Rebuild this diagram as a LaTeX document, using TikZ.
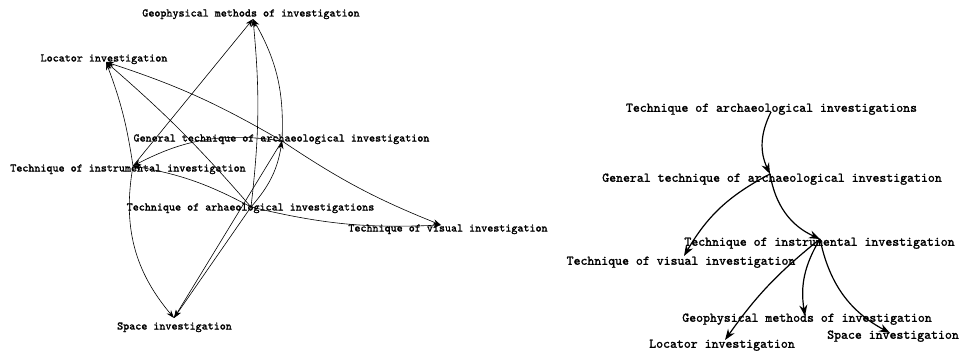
\documentclass[tikz,border=0pt]{standalone}
\usepackage{fontspec}
\usepackage{tikz}
\usetikzlibrary{arrows.meta}
\newfontfamily\lblfont{lmmono10-regular.otf}[FakeBold=1.6]

\begin{document}
\begin{tikzpicture}[x=1pt,y=-1pt,
  lbl/.style={font=\lblfont\fontsize{11.5}{12}\selectfont,inner sep=0pt,text height=7pt,text depth=2pt},
  rlbl/.style={font=\lblfont\fontsize{13.2}{14}\selectfont,inner sep=0pt,text height=8pt,text depth=2.5pt},
  ledge/.style={line width=0.6pt,-{Stealth[length=8pt,width=5.5pt]}},
  redge/.style={line width=1.2pt,-{Stealth[length=11pt,width=8pt]}}]
\useasboundingbox (0,0) rectangle (961,353);
\coordinate (lG) at (253,19);
\coordinate (lL) at (106,62);
\coordinate (lGen) at (282,141);
\coordinate (lI) at (133,166);
\coordinate (lA) at (251,207);
\coordinate (lV) at (441,225);
\coordinate (lS) at (174,318);
\node[lbl] (lG-t) at (251,14) {Geophysical methods of investigation};
\node[lbl] (lL-t) at (104,59) {Locator investigation};
\node[lbl] (lGen-t) at (281.5,139) {General technique of archaeological investigation};
\node[lbl] (lI-t) at (128,169) {Technique of instrumental investigation};
\node[lbl] (lA-t) at (250.5,208) {Technique of arhaeological investigations};
\node[lbl] (lV-t) at (448,229) {Technique of visual investigation};
\node[lbl] (lS-t) at (174.5,327) {Space investigation};
\draw[ledge] (lA) to[bend right=16] (lGen);
\draw[ledge] (lA) to[bend right=8] (lV);
\draw[ledge] (lA) to[bend right=9] (lI);
\draw[ledge] (lA) to[bend right=6] (lG);
\draw[ledge] (lA) to[bend right=4] (lL);
\draw[ledge] (lA) -- (lS);
\draw[ledge] (lGen) to[bend right=18] (lI);
\draw[ledge] (lGen) to[bend right=16] (lG);
\draw[ledge] (lGen) to[bend right=6] (lL);
\draw[ledge] (lGen) to[bend right=6] (lV);
\draw[ledge] (lGen) -- (lS);
\draw[ledge] (lI) -- (lG);
\draw[ledge] (lI) to[bend right=6] (lL);
\draw[ledge] (lI) to[bend right=25] (lS);
\coordinate (rA) at (771,112);
\coordinate (rGen) at (770,174);
\coordinate (rI) at (820,239);
\coordinate (rV) at (684,256);
\coordinate (rG) at (805,316);
\coordinate (rL) at (725,340);
\coordinate (rS) at (890,333);
\node[rlbl] (rA-t) at (771.5,109) {Technique of archaeological investigations};
\node[rlbl] (rGen-t) at (772,179) {General technique of archaeological investigation};
\node[rlbl] (rI-t) at (819.5,243) {Technique of instrumental investigation};
\node[rlbl] (rV-t) at (681,262) {Technique of visual investigation};
\node[rlbl] (rG-t) at (807,319) {Geophysical methods of investigation};
\node[rlbl] (rS-t) at (893,336) {Space investigation};
\node[rlbl] (rL-t) at (722,345) {Locator investigation};
\draw[redge] (rA) to[bend right=26] (rGen);
\draw[redge] (rGen) to[bend right=16] (rV);
\draw[redge] (rGen) to[bend right=28] (rI);
\draw[redge] (rI) to[bend right=20] (rG);
\draw[redge] (rI) to[bend right=8] (rL);
\draw[redge] (rI) to[bend right=25] (rS);
\end{tikzpicture}
\end{document}
